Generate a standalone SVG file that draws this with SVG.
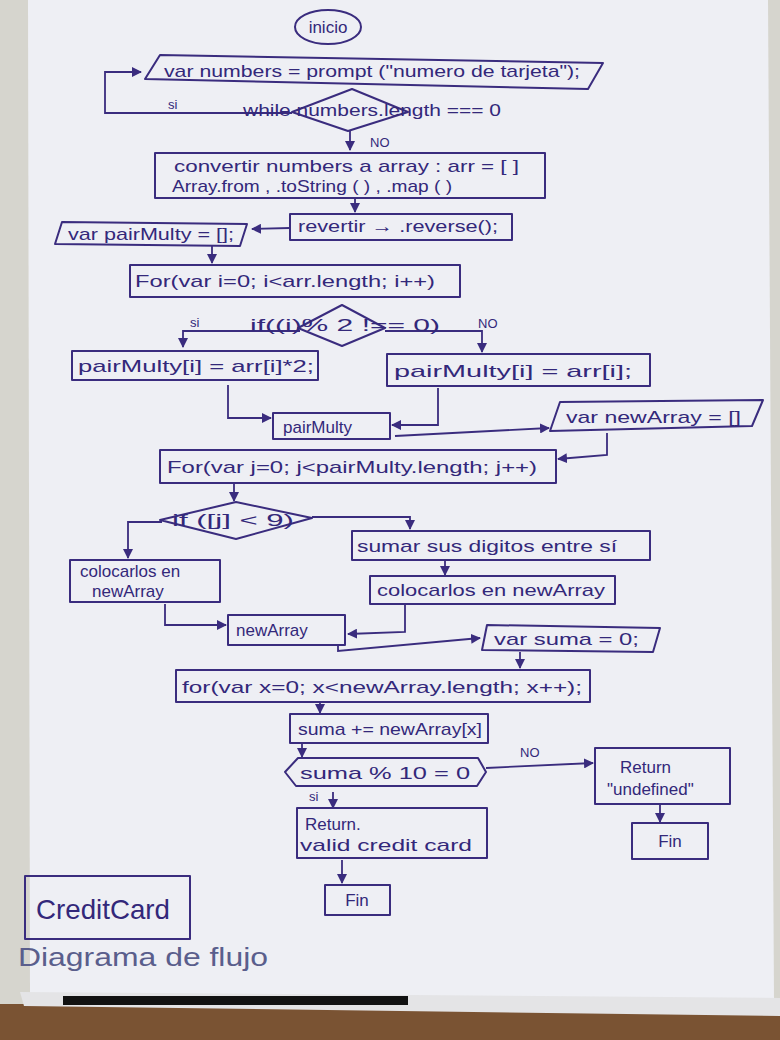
<svg xmlns="http://www.w3.org/2000/svg" width="780" height="1040" viewBox="0 0 780 1040">
<style>
.s{fill:none;stroke:#3a2c7e;stroke-width:2;stroke-linejoin:round}
.c{fill:none;stroke:#3a2c7e;stroke-width:1.8;marker-end:url(#ah)}
.t{font-family:"Liberation Sans",Arial,sans-serif;font-size:17px;fill:#33287a}
.l{font-family:"Liberation Sans",Arial,sans-serif;font-size:13px;fill:#33287a}
</style>
<defs>
<marker id="ah" markerWidth="10" markerHeight="10" refX="9" refY="5" orient="auto" markerUnits="userSpaceOnUse">
<path d="M0,0 L10,5 L0,10 Z" fill="#3a2c7e"/>
</marker>
</defs>
<rect x="0" y="0" width="780" height="1040" fill="#d6d5ce"/>
<polygon points="28,0 768,0 774,1000 30,996" fill="#eeeff4"/>
<rect x="0" y="1004" width="780" height="36" fill="#7a5333"/>
<polygon points="20,992 780,998 780,1016 24,1006" fill="#e4e4e6"/>
<rect x="63" y="996" width="345" height="9" fill="#121212"/>

<g id="connectors">
<path class="c" d="M292,113 L105,113 L105,72 L141,72"/>
<path class="c" d="M350,131 L350,150"/>
<path class="c" d="M355,198 L355,212"/>
<path class="c" d="M290,228 L252,229"/>
<path class="c" d="M212,246 L212,263"/>
<path class="c" d="M300,331 L183,331 L183,347"/>
<path class="c" d="M385,331 L482,331 L482,352"/>
<path class="c" d="M228,385 L228,418 L271,418"/>
<path class="c" d="M438,388 L438,425 L392,425"/>
<path class="c" d="M395,436 L549,428"/>
<path class="c" d="M607,433 L607,455 L558,459"/>
<path class="c" d="M234,484 L234,501"/>
<path class="c" d="M162,522 L128,522 L128,558"/>
<path class="c" d="M312,517 L410,517 L410,529"/>
<path class="c" d="M445,561 L445,575"/>
<path class="c" d="M165,604 L165,625 L226,625"/>
<path class="c" d="M405,605 L405,632 L348,634"/>
<path class="c" d="M338,646 L338,651 L480,638"/>
<path class="c" d="M520,652 L520,668"/>
<path class="c" d="M320,702 L320,713"/>
<path class="c" d="M302,743 L302,757"/>
<path class="c" d="M486,768 L593,763"/>
<path class="c" d="M660,805 L660,822"/>
<path class="c" d="M333,792 L333,808"/>
<path class="c" d="M342,860 L342,883"/>
</g>
<g id="edge-labels">
<text class="l" x="168" y="109">si</text>
<text class="l" x="370" y="147">NO</text>
<text class="l" x="190" y="327">si</text>
<text class="l" x="478" y="328">NO</text>
<text class="l" x="520" y="757">NO</text>
<text class="l" x="309" y="801">si</text>
</g>

<g id="inicio">
<ellipse class="s" cx="328" cy="27" rx="33" ry="17"/>
<text class="t" x="328" y="33" text-anchor="middle">inicio</text>
</g>
<g id="prompt">
<polygon class="s" points="160,55 603,63 588,89 145,79"/>
<text class="t" x="164" y="77" textLength="416" lengthAdjust="spacingAndGlyphs">var numbers = prompt ("numero de tarjeta");</text>
</g>
<g id="while">
<polygon class="s" points="352,89 408,112 348,131 292,112"/>
<text class="t" x="243" y="116" textLength="258" lengthAdjust="spacingAndGlyphs">while numbers.length === 0</text>
</g>
<g id="convertir">
<rect class="s" x="155" y="153" width="390" height="45"/>
<text class="t" x="174" y="172" textLength="345" lengthAdjust="spacingAndGlyphs">convertir numbers a array :  arr = [ ]</text>
<text class="t" x="172" y="192" textLength="280" lengthAdjust="spacingAndGlyphs">Array.from , .toString ( ) , .map ( )</text>
</g>
<g id="revertir">
<rect class="s" x="290" y="214" width="222" height="26"/>
<text class="t" x="298" y="232" textLength="200" lengthAdjust="spacingAndGlyphs">revertir → .reverse();</text>
</g>
<g id="pairMultyInit">
<polygon class="s" points="62,222 247,224 240,246 55,244"/>
<text class="t" x="68" y="240" textLength="166" lengthAdjust="spacingAndGlyphs">var pairMulty = [];</text>
</g>
<g id="forI">
<rect class="s" x="130" y="265" width="330" height="32"/>
<text class="t" x="135" y="287" textLength="300" lengthAdjust="spacingAndGlyphs">For(var i=0; i&lt;arr.length; i++)</text>
</g>
<g id="ifI">
<polygon class="s" points="342,305 385,328 342,346 298,328"/>
<text class="t" x="250" y="331" textLength="190" lengthAdjust="spacingAndGlyphs">if((i)% 2 !== 0)</text>
</g>
<g id="pairDouble">
<rect class="s" x="72" y="351" width="246" height="29"/>
<text class="t" x="78" y="372" textLength="236" lengthAdjust="spacingAndGlyphs">pairMulty[i] = arr[i]*2;</text>
</g>
<g id="pairSame">
<rect class="s" x="387" y="354" width="263" height="32"/>
<text class="t" x="394" y="377" textLength="238" lengthAdjust="spacingAndGlyphs">pairMulty[i] = arr[i];</text>
</g>
<g id="pairMulty">
<rect class="s" x="273" y="413" width="117" height="26"/>
<text class="t" x="283" y="433">pairMulty</text>
</g>
<g id="newArrayInit">
<polygon class="s" points="560,402 763,400 752,426 550,431"/>
<text class="t" x="566" y="423" textLength="175" lengthAdjust="spacingAndGlyphs">var newArray = []</text>
</g>
<g id="forJ">
<rect class="s" x="160" y="450" width="396" height="33"/>
<text class="t" x="167" y="473" textLength="370" lengthAdjust="spacingAndGlyphs">For(var j=0; j&lt;pairMulty.length; j++)</text>
</g>
<g id="ifJ">
<polygon class="s" points="236,502 312,518 236,539 160,520"/>
<text class="t" x="172" y="526" textLength="122" lengthAdjust="spacingAndGlyphs">if ([j] &lt; 9)</text>
</g>
<g id="colocarlosLeft">
<rect class="s" x="70" y="560" width="150" height="42"/>
<text class="t" x="80" y="577">colocarlos en</text>
<text class="t" x="92" y="597">newArray</text>
</g>
<g id="sumar">
<rect class="s" x="352" y="531" width="298" height="29"/>
<text class="t" x="357" y="552" textLength="260" lengthAdjust="spacingAndGlyphs">sumar sus digitos entre sí</text>
</g>
<g id="colocarlosRight">
<rect class="s" x="370" y="576" width="245" height="28"/>
<text class="t" x="377" y="596" textLength="228" lengthAdjust="spacingAndGlyphs">colocarlos en newArray</text>
</g>
<g id="newArray">
<rect class="s" x="228" y="615" width="117" height="30"/>
<text class="t" x="236" y="636">newArray</text>
</g>
<g id="sumaInit">
<polygon class="s" points="487,625 660,628 653,652 482,650"/>
<text class="t" x="494" y="645" textLength="145" lengthAdjust="spacingAndGlyphs">var suma = 0;</text>
</g>
<g id="forX">
<rect class="s" x="176" y="670" width="414" height="32"/>
<text class="t" x="182" y="693" textLength="400" lengthAdjust="spacingAndGlyphs">for(var x=0; x&lt;newArray.length; x++);</text>
</g>
<g id="sumaAdd">
<rect class="s" x="290" y="714" width="198" height="29"/>
<text class="t" x="298" y="735" textLength="184" lengthAdjust="spacingAndGlyphs">suma += newArray[x]</text>
</g>
<g id="sumaMod">
<polygon class="s" points="298,758 478,758 486,772 477,786 296,786 285,772"/>
<text class="t" x="300" y="779" textLength="170" lengthAdjust="spacingAndGlyphs">suma % 10 = 0</text>
</g>
<g id="returnUndefined">
<rect class="s" x="595" y="748" width="135" height="56"/>
<text class="t" x="620" y="773">Return</text>
<text class="t" x="607" y="795">"undefined"</text>
</g>
<g id="finRight">
<rect class="s" x="632" y="823" width="76" height="36"/>
<text class="t" x="670" y="847" text-anchor="middle">Fin</text>
</g>
<g id="returnValid">
<rect class="s" x="297" y="808" width="190" height="50"/>
<text class="t" x="305" y="830">Return.</text>
<text class="t" x="300" y="851" textLength="172" lengthAdjust="spacingAndGlyphs">valid credit card</text>
</g>
<g id="finLeft">
<rect class="s" x="325" y="885" width="65" height="30"/>
<text class="t" x="357" y="906" text-anchor="middle">Fin</text>
</g>
<g id="title">
<rect class="s" x="25" y="876" width="165" height="63"/>
<text x="36" y="919" font-family="Liberation Sans, Arial, sans-serif" font-size="28" fill="#33287a" textLength="134" lengthAdjust="spacingAndGlyphs">CreditCard</text>
<text x="18" y="966" font-family="Liberation Sans, Arial, sans-serif" font-size="25" fill="#5a5e8c" textLength="250" lengthAdjust="spacingAndGlyphs">Diagrama de flujo</text>
</g>
</svg>
